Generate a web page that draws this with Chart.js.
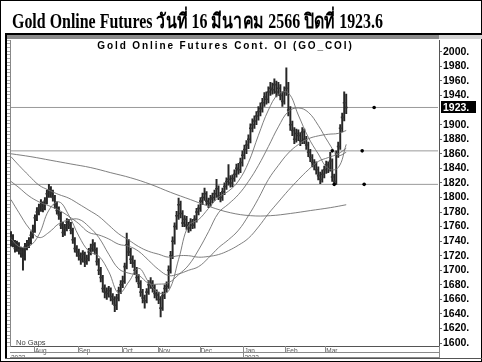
<!DOCTYPE html>
<html><head><meta charset="utf-8">
<script src="https://cdn.jsdelivr.net/npm/chart.js@4.4.1/dist/chart.umd.min.js"></script>
<style>html,body{margin:0;padding:0;background:#fff}canvas{display:block}</style>
</head><body>
<canvas id="c" width="482" height="362"></canvas>
<script>
const titleText = 'Gold Online Futures วันที่ 16 มีนาคม 2566 ปิดที่ 1923.6';
const innerTitle = 'Gold Online Futures Cont. OI (GO_COI)';
const noGapsText = 'No Gaps';
const monthNames = ['Aug','Sep','Oct','Nov','Dec','Jan','Feb','Mar'];
const monthStarts = [12,34,56,74,95,117,138,158];
const yearLabels = ['2022','2023'];
const yearStarts = [0,117];
const yTicks = [2000,1980,1960,1940,1900,1880,1860,1840,1820,1800,1780,1760,1740,1720,1700,1680,1660,1640,1620,1600];
const lastClose = 1923.6;
const levels = [1923.6, 1864, 1818];
const markerIdx = [161,162,176,177,182];
const markerVal = [1864,1818,1864,1818,1923.6];

const closes = [
1745,1738,1730,1735,1728,1725,1718,1732,1736,1740,
1748,1755,1772,1780,1785,1790,1786,1795,1805,1810,
1806,1800,1790,1782,1776,1762,1752,1758,1766,1762,
1755,1742,1730,1725,1720,1715,1722,1712,1716,1725,
1730,1735,1728,1712,1700,1690,1675,1670,1668,1672,
1664,1660,1652,1662,1672,1680,1685,1705,1735,1725,
1715,1710,1700,1690,1682,1670,1662,1658,1670,1680,
1682,1676,1668,1666,1660,1648,1665,1675,1678,1700,
1720,1740,1760,1775,1790,1778,1765,1770,1762,1758,
1766,1762,1770,1780,1785,1795,1800,1805,1795,1792,
1798,1800,1805,1812,1802,1800,1808,1815,1822,1825,
1820,1826,1832,1840,1838,1848,1858,1866,1872,1880,
1895,1900,1905,1912,1918,1922,1930,1938,1935,1945,
1950,1948,1955,1945,1950,1940,1932,1945,1950,1920,
1900,1892,1880,1888,1885,1878,1890,1880,1872,1862,
1855,1848,1845,1838,1830,1825,1832,1838,1845,1840,
1850,1828,1822,1860,1870,1895,1910,1930,1923.6];
const highs = [
1753,1749,1741,1740,1738,1732,1730,1737,1741,1745,
1753,1762,1776,1786,1791,1797,1794,1800,1810,1818,
1815,1810,1803,1794,1787,1780,1766,1763,1771,1770,
1766,1758,1745,1734,1729,1724,1727,1725,1721,1730,
1736,1742,1738,1731,1716,1704,1693,1680,1676,1678,
1676,1668,1664,1667,1677,1686,1692,1710,1751,1742,
1730,1720,1714,1704,1694,1686,1674,1666,1675,1686,
1690,1686,1680,1673,1670,1664,1670,1680,1684,1706,
1726,1746,1765,1781,1799,1795,1782,1775,1774,1766,
1771,1770,1775,1785,1790,1800,1806,1813,1808,1799,
1803,1806,1810,1825,1816,1807,1813,1820,1827,1845,
1830,1831,1838,1846,1847,1854,1864,1872,1878,1886,
1901,1908,1912,1918,1925,1930,1936,1944,1945,1952,
1958,1957,1963,1960,1958,1955,1945,1952,1978,1958,
1925,1905,1896,1894,1893,1889,1896,1894,1884,1876,
1866,1859,1852,1849,1842,1835,1838,1843,1850,1849,
1862,1853,1832,1864,1876,1900,1916,1945,1942];
const lows = [
1733,1732,1725,1726,1722,1718,1700,1714,1728,1731,
1736,1744,1752,1768,1776,1781,1780,1783,1791,1800,
1800,1795,1785,1777,1770,1757,1746,1748,1754,1757,
1750,1737,1725,1719,1714,1708,1711,1705,1708,1713,
1721,1726,1722,1707,1694,1684,1670,1662,1660,1663,
1658,1653,1643,1646,1658,1668,1676,1682,1702,1720,
1709,1704,1694,1684,1676,1664,1655,1648,1655,1667,
1675,1670,1662,1659,1654,1636,1645,1661,1670,1675,
1696,1716,1736,1756,1770,1772,1760,1760,1756,1752,
1754,1757,1758,1766,1776,1781,1790,1796,1790,1786,
1788,1793,1796,1800,1797,1794,1796,1804,1811,1817,
1814,1815,1822,1828,1832,1834,1843,1853,1860,1867,
1875,1890,1895,1900,1906,1912,1917,1925,1928,1930,
1940,1942,1943,1938,1940,1934,1925,1928,1940,1912,
1892,1885,1874,1876,1878,1871,1874,1874,1866,1856,
1849,1842,1838,1832,1824,1819,1821,1827,1833,1834,
1836,1822,1817,1818,1855,1866,1890,1905,1915];

const maIdx = [0,4,9,14,19,24,29,34,39,44,49,54,59,64,69,74,79,84,89,94,99,104,109,114,119,124,129,134,139,144,149,154,159,164,168];
const ma10 = [1743.5,1732.6,1732.7,1749,1782.6,1794,1775.4,1747,1726.2,1719.5,1698,1668.5,1684,1702.7,1683.7,1669,1671.8,1715,1761.8,1769.6,1785,1800.4,1808.7,1822.6,1848,1885.4,1920,1941.8,1943.5,1913.2,1882.7,1859.8,1839.6,1841,1872.9];
const ma25 = [1797,1779,1758,1745,1752,1764,1769,1770,1760,1745,1722,1702,1696,1693,1682,1681,1683,1694,1707,1728,1753,1779,1791,1804,1822,1844,1870,1897,1918,1923,1917,1899,1876,1858,1862];
const ma50 = [1822,1813.5,1802,1794,1788.6,1782.6,1774,1764,1752,1748.5,1743,1735.7,1733,1726,1713.5,1701,1692.7,1695,1700,1705,1717,1731,1742,1755,1775,1798.6,1824.7,1844,1861,1872.7,1880.6,1884.6,1886.8,1888,1892];
const ma75 = [1856,1844,1830,1817,1810,1804,1799,1791,1782.6,1774,1762,1750,1741.5,1732.5,1726,1722,1718,1720,1720,1718,1719,1721.6,1727,1734.5,1744,1759.5,1777.6,1793.8,1809.7,1824.4,1838,1849.5,1854.8,1860,1867.6];
const ma200Idx = [0,10,20,30,40,50,60,70,80,90,100,110,120,130,140,150,160,168];
const ma200 = [1860,1856,1851,1846,1841,1834,1827,1818,1807,1797,1787,1779,1775,1775,1778,1782,1786,1790];

const SLOTS = 215;
const Y_MIN = 1596, Y_MAX = 2016;
const labels = Array.from({length: SLOTS}, (_, i) => i);

function sparse(idx, vals) {
  const a = new Array(SLOTS).fill(null);
  idx.forEach((k, j) => { a[k] = vals[j]; });
  return a;
}
function levelLine(v) {
  const a = new Array(SLOTS).fill(null);
  a[0] = v; a[SLOTS - 1] = v;
  return a;
}
const maStyle = { type: 'line', borderColor: '#707070', borderWidth: 0.9, pointRadius: 0, spanGaps: true, tension: 0.4, order: 2 };

const decor = {
  id: 'decor',
  beforeDraw(chart) {
    const ctx = chart.ctx, W = chart.width, H = chart.height, ca = chart.chartArea;
    ctx.save();
    ctx.fillStyle = '#fff'; ctx.fillRect(0, 0, W, H);
    ctx.strokeStyle = '#000'; ctx.lineWidth = 1;
    ctx.strokeRect(0.5, 0.5, W - 1, H - 1);
    ctx.fillStyle = '#000';
    ctx.fillRect(5, 33, W - 5, 2);
    ctx.fillRect(5, 33, 2, 326);
    ctx.fillStyle = '#8a8a8a'; ctx.fillRect(7, 35, ca.right - 7, 4);
    ctx.fillStyle = '#d4d4d4'; ctx.fillRect(ca.right, 35, W - ca.right, 4);
    // page title (serif bold, horizontally condensed like the reference)
    ctx.font = 'bold 20.5px "Liberation Serif", "Times New Roman", "DejaVu Serif", serif';
    ctx.fillStyle = '#000'; ctx.textAlign = 'left'; ctx.textBaseline = 'alphabetic';
    const tw = ctx.measureText(titleText).width;
    const sx = Math.min(1, 371 / tw);
    ctx.translate(12, 27.5);
    ctx.scale(sx, 1);
    ctx.fillText(titleText, 0, 0);
    ctx.restore();
  },
  afterDraw(chart) {
    const ctx = chart.ctx, W = chart.width, ca = chart.chartArea;
    const xs = chart.scales.x, ys = chart.scales.y;
    ctx.save();
    ctx.font = 'bold 10px "Liberation Sans", Arial, sans-serif';
    ctx.letterSpacing = '1.9px';
    ctx.fillStyle = '#000'; ctx.textAlign = 'center'; ctx.textBaseline = 'middle';
    ctx.fillText(innerTitle, (ca.left + ca.right) / 2 + 1, 46);
    ctx.letterSpacing = '0px';
    ctx.font = '7.5px "Liberation Sans", Arial, sans-serif';
    ctx.fillStyle = '#444'; ctx.textAlign = 'left';
    ctx.fillText(noGapsText, 16, 342.5);
    const w = (ca.right - ca.left) / SLOTS;
    ctx.strokeStyle = '#8a8a8a'; ctx.lineWidth = 1;
    ctx.beginPath();
    ctx.moveTo(ca.left, 352.5); ctx.lineTo(ca.right, 352.5);
    ctx.moveTo(ca.left, 357.5); ctx.lineTo(ca.right, 357.5);
    ctx.moveTo(ca.right + 0.5, ca.bottom); ctx.lineTo(ca.right + 0.5, 358);
    monthStarts.forEach((k) => {
      const x = Math.round(xs.getPixelForTick(k) - w / 2) + 0.5;
      ctx.moveTo(x, ca.bottom); ctx.lineTo(x, yearStarts.includes(k) ? 358 : 352.5);
    });
    ctx.stroke();
    ctx.strokeStyle = '#555';
    ctx.beginPath(); ctx.moveTo(5, 358.5); ctx.lineTo(W, 358.5); ctx.stroke();
    const yp = ys.getPixelForValue(lastClose);
    ctx.fillStyle = '#000';
    ctx.fillRect(ca.right + 2, Math.round(yp) - 6, 35, 12);
    ctx.font = 'bold 10.5px "Liberation Sans", Arial, sans-serif';
    ctx.fillStyle = '#fff'; ctx.textAlign = 'left'; ctx.textBaseline = 'middle';
    ctx.fillText(Math.floor(lastClose) + '.', ca.right + 4, yp + 0.5);
    ctx.restore();
  }
};

new Chart(document.getElementById('c'), {
  type: 'bar',
  data: {
    labels: labels,
    datasets: [
      { type: 'line', data: levelLine(levels[0]), borderColor: '#9a9a9a', borderWidth: 1, pointRadius: 0, spanGaps: true, order: 6 },
      { type: 'line', data: levelLine(levels[1]), borderColor: '#9a9a9a', borderWidth: 1, pointRadius: 0, spanGaps: true, order: 6 },
      { type: 'line', data: levelLine(levels[2]), borderColor: '#9a9a9a', borderWidth: 1, pointRadius: 0, spanGaps: true, order: 6 },
      { type: 'bar', data: lows.map((lo, i) => [lo, highs[i]]), backgroundColor: '#262626', barThickness: 1.3, grouped: false, order: 4 },
      { type: 'bar', data: closes.map(c => [c - 0.6, c + 0.6]), backgroundColor: '#333333', barThickness: 2.2, grouped: false, order: 3 },
      Object.assign({ data: sparse(maIdx, ma10) }, maStyle),
      Object.assign({ data: sparse(maIdx, ma25) }, maStyle),
      Object.assign({ data: sparse(maIdx, ma50) }, maStyle),
      Object.assign({ data: sparse(maIdx, ma75) }, maStyle),
      Object.assign({ data: sparse(ma200Idx, ma200) }, maStyle),
      { type: 'line', data: sparse(markerIdx, markerVal), showLine: false, pointRadius: 1.8, pointBackgroundColor: '#000', pointBorderColor: '#000', pointBorderWidth: 0, order: 1 }
    ]
  },
  options: {
    responsive: false,
    devicePixelRatio: 1,
    animation: false,
    events: [],
    layout: { padding: { left: 7, right: 2, top: 40.2, bottom: 4 } },
    plugins: {
      legend: { display: false },
      tooltip: { enabled: false },
      title: { display: false }
    },
    scales: {
      x: {
        type: 'category', offset: true,
        grid: { display: false, drawTicks: false },
        border: { display: true, color: '#555', width: 1 },
        ticks: {
          autoSkip: false, maxRotation: 0, minRotation: 0, align: 'start', padding: 2,
          color: '#555', font: { family: '"Liberation Sans", Arial, sans-serif', size: 6.5, lineHeight: 1 },
          callback: function (v, i) {
            const m = monthStarts.indexOf(i), y = yearStarts.indexOf(i);
            if (m >= 0 && y >= 0) return [monthNames[m], yearLabels[y]];
            if (m >= 0) return monthNames[m];
            if (y >= 0) return ['', yearLabels[y]];
            return '';
          }
        },
        afterFit: s => { s.height = 12; }
      },
      y: {
        position: 'right', min: Y_MIN, max: Y_MAX,
        grid: { drawOnChartArea: false, tickLength: 3, color: '#666' },
        border: { display: true, color: '#555', width: 1 },
        ticks: { color: '#000', padding: 1, font: { family: '"Liberation Sans", Arial, sans-serif', size: 10.5, weight: 'bold' }, callback: v => v + '.' },
        afterBuildTicks: s => { s.ticks = yTicks.map(v => ({ value: v })); },
        afterFit: s => { s.width = 41; }
      },
      y2: {
        position: 'left', min: Y_MIN, max: Y_MAX,
        grid: { drawOnChartArea: false, tickLength: 3, color: '#aaa' },
        border: { display: true, color: '#888', width: 1 },
        ticks: { display: false, stepSize: 5, maxTicksLimit: 1000 },
        afterFit: s => { s.width = 3; }
      }
    }
  },
  plugins: [decor]
});
</script>
</body></html>
